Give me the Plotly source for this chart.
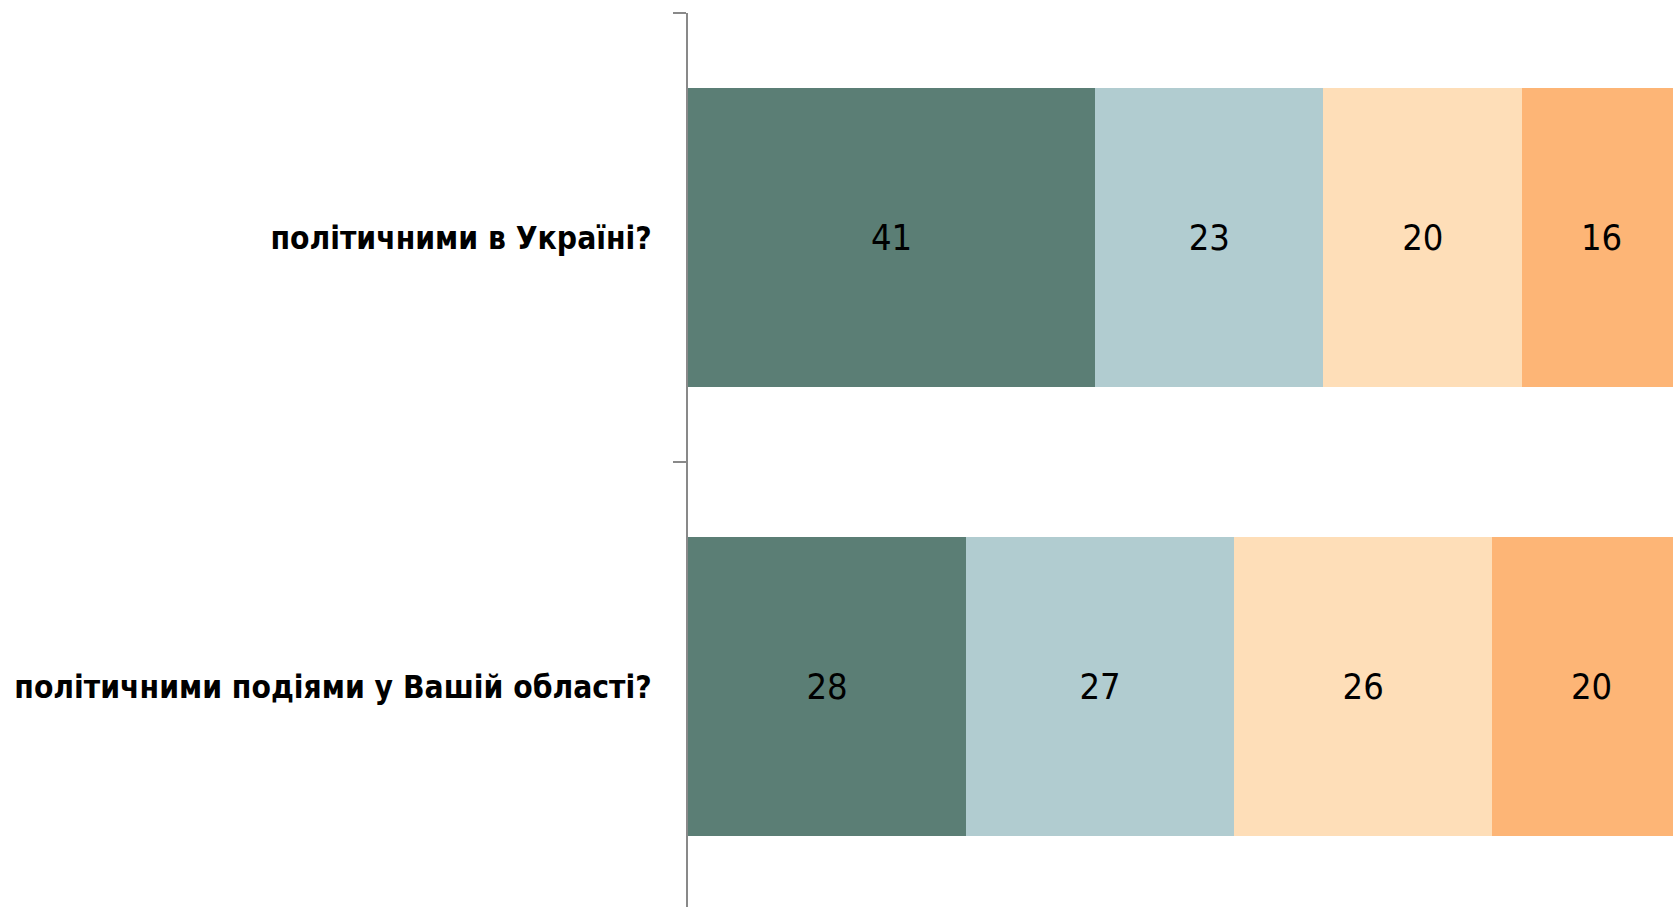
import plotly.graph_objects as go

categories = ["політичними подіями у Вашій області?", "політичними в Україні?"]
series_names = ["s1", "s2", "s3", "s4"]
s1 = [28, 41]
s2 = [27, 23]
s3 = [26, 20]
s4 = [20, 16]
colors = ["#5B7E75", "#B1CCD0", "#FEDEB8", "#FDB576"]

FONT = "Liberation Sans Narrow, DejaVu Sans Condensed, Arial Narrow, sans-serif"

fig = go.Figure()
for name, vals, col in zip(series_names, [s1, s2, s3, s4], colors):
    fig.add_trace(go.Bar(
        y=categories, x=vals, orientation="h", name=name,
        marker=dict(color=col, line=dict(width=0)),
        width=0.666,
        text=[str(v) for v in vals], textposition="inside",
        insidetextanchor="middle",
        textfont=dict(family=FONT, size=36, color="black"),
        cliponaxis=True,
        hoverinfo="skip",
    ))

fig.update_layout(
    barmode="stack",
    width=1673, height=907,
    margin=dict(l=688, r=0, t=13, b=0, autoexpand=False),
    paper_bgcolor="white", plot_bgcolor="white",
    showlegend=False,
    uniformtext=dict(mode=False),
    xaxis=dict(range=[0, 99.2], visible=False, showgrid=False, zeroline=False, automargin=False),
    yaxis=dict(
        range=[-0.491, 1.5], automargin=False,
        categoryorder="array", categoryarray=categories,
        showline=True, linecolor="#898989", linewidth=2,
        ticks="outside", tickson="boundaries", ticklen=13, tickcolor="#898989", tickwidth=2,
        ticklabelstandoff=28,
        showgrid=False, zeroline=False,
        tickfont=dict(family=FONT, size=31.5, color="black", weight="bold"),
    ),
)

fig.write_html(
    "out.html",
    config={"displayModeBar": False, "staticPlot": True},
    post_script="document.body.style.margin='0';document.body.style.overflow='hidden';document.documentElement.style.overflow='hidden';",
)
